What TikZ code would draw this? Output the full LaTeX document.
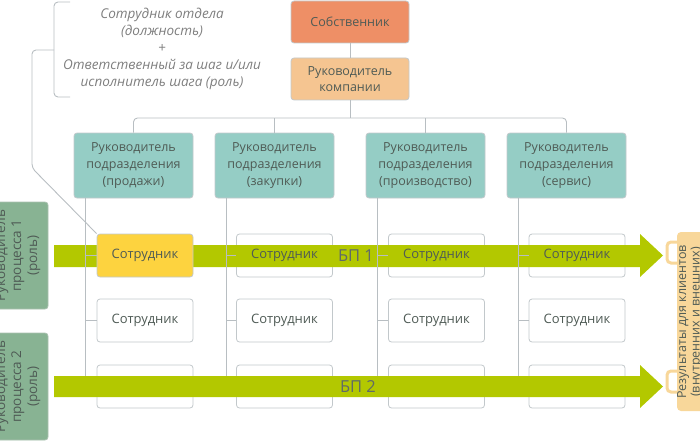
\documentclass[tikz,border=0pt]{standalone}
\usepackage{fontspec}
\setmainfont{Open Sans}
\definecolor{cown}{HTML}{EE8F66}
\definecolor{cceo}{HTML}{F5C591}
\definecolor{cdept}{HTML}{95CDC5}
\definecolor{crole}{HTML}{88B393}
\definecolor{cyel}{HTML}{FDD33F}
\definecolor{cband}{HTML}{B3C800}
\definecolor{cline}{HTML}{B8BEC2}
\definecolor{cbord}{HTML}{C2C8CB}
\definecolor{ctext}{HTML}{4F5B55}
\definecolor{cgray}{HTML}{7E7E7E}
\definecolor{ccup}{HTML}{F8D79A}
\begin{document}
\begin{tikzpicture}[x=1pt,y=-1pt,
  conn/.style={draw=cline, line width=0.9pt},
  box/.style={draw=cbord, line width=0.8pt, rounded corners=3pt, align=center,
    text=ctext, font=\fontsize{12.5}{16.8}\selectfont, inner sep=0pt},
  topbox/.style={box, minimum width=118pt, minimum height=42pt},
  deptbox/.style={box, fill=cdept, minimum width=119pt, minimum height=65pt},
  empbox/.style={box, fill=white, minimum width=96pt, minimum height=43pt, font=\fontsize{13}{15}\selectfont},
  emptext/.style={text=ctext, font=\fontsize{13}{15}\selectfont, inner sep=0pt},
  rolebox/.style={box, fill=crole, draw=crole!85!black!60, rotate=90,
    minimum width=107pt, minimum height=60pt, font=\fontsize{13.5}{16}\selectfont},
  bptext/.style={text=ctext!90, font=\fontsize{16.5}{18}\selectfont, inner sep=0pt},
  note/.style={text=cgray, align=center, font=\itshape\fontsize{13.5}{16.8}\selectfont, inner sep=0pt}
]
\useasboundingbox (0,0) rectangle (700,441);
\clip (0,0) rectangle (700,441);

% top nodes
\node[topbox, fill=cown] (own) at (350,22) {Собственник};
\node[topbox, fill=cceo] (ceo) at (350,79) {Руководитель\\компании};

% departments
\node[deptbox] (d1) at (133.5,165.5) {Руководитель\\подразделения\\(продажи)};
\node[deptbox] (d2) at (274.5,165.5) {Руководитель\\подразделения\\(закупки)};
\node[deptbox] (d3) at (425.5,165.5) {Руководитель\\подразделения\\(производство)};
\node[deptbox] (d4) at (566.5,165.5) {Руководитель\\подразделения\\(сервис)};

% top connectors
\coordinate (bus) at (350,118);
\draw[conn] (own) -- (ceo);
\draw[conn] (ceo) -- (bus);
\draw[conn, rounded corners=4pt] (d1.north) |- (bus) -| (d4.north);
\draw[conn] (d2.north) -- (d2.north |- bus);
\draw[conn] (d3.north) -- (d3.north |- bus);

% employee boxes (row 1 text added above the band)
\node[empbox] (e12) at (284.5,255.5) {};
\node[empbox] (e13) at (436.5,255.5) {};
\node[empbox] (e14) at (577,255.5) {};
\node[empbox] (e21) at (145,320.5) {Сотрудник};
\node[empbox] (e22) at (284.5,320.5) {Сотрудник};
\node[empbox] (e23) at (436.5,320.5) {Сотрудник};
\node[empbox] (e24) at (577,320.5) {Сотрудник};
\node[empbox] (e31) at (145,386.5) {};
\node[empbox] (e32) at (284.5,386.5) {};
\node[empbox] (e33) at (436.5,386.5) {};
\node[empbox] (e34) at (577,386.5) {};

% role boxes
\node[rolebox] (r1) at (18,255.5) {Руководитель\\процесса 1\\(роль)};
\node[rolebox] (r2) at (18,386.5) {Руководитель\\процесса 2\\(роль)};

% results cups
\fill[ccup, rounded corners=4pt] (677,232) rectangle (706,411);
\draw[ccup, line width=3pt, rounded corners=4pt] (678,242) -- (667,242) -- (667,263) -- (678,263);
\draw[ccup, line width=3pt, rounded corners=4pt] (678,371) -- (667,371) -- (667,392) -- (678,392);
\node[text=ctext, align=center, rotate=90, font=\fontsize{12.5}{13.5}\selectfont, inner sep=0pt]
  (res) at (690,322) {Результаты для клиентов\\(внутренних и внешних)};

% process bands
\fill[cband] (54,245) -- (640,245) -- (640,234) -- (663,255.5) -- (640,277) -- (640,267) -- (54,267) -- cycle;
\fill[cband] (54,376) -- (640,376) -- (640,365) -- (663,386.5) -- (640,408) -- (640,397) -- (54,397) -- cycle;
\node[bptext] (bp1) at (356,255.5) {БП 1};
\node[bptext] (bp2) at (358,386.5) {БП 2};

% first employee (highlighted)
\node[empbox, fill=cyel] (e11) at (145,255.5) {Сотрудник};
\node[emptext] (t12) at (e12) {Сотрудник};
\node[emptext] (t13) at (e13) {Сотрудник};
\node[emptext] (t14) at (e14) {Сотрудник};

% column connectors
\coordinate (b2top) at (0,375.5);
\foreach \i in {1,2,3,4}{
  \coordinate (v\i) at ([xshift=11.7pt]d\i.south west);
  \draw[conn] (v\i) -- (v\i |- b2top);
  \draw[conn] (v\i |- e1\i.west) -- (e1\i.west);
  \draw[conn] (v\i |- e2\i.west) -- (e2\i.west);
}

% note bracket
\node[note] (nt) at (162,49) {Сотрудник отдела\\(должность)\\+\\Ответственный за шаг и/или\\исполнитель шага (роль)};
\coordinate (bt) at (70,2);
\coordinate (bb) at (70,97);
\coordinate (bm) at (54,50);
\coordinate (bk) at (32,168);
\draw[conn, rounded corners=4pt] (bt) -| (54,97) -- (bb);
\draw[conn, rounded corners=4pt] (bm) -| (bk) -- (e11.north west);
\end{tikzpicture}
\end{document}
